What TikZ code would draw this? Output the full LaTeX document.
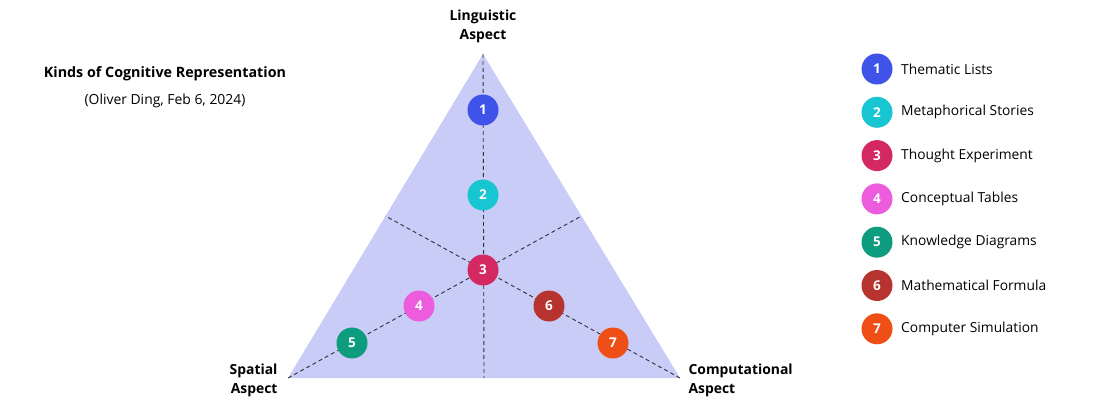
\documentclass[tikz,border=0pt]{standalone}
\usepackage{fontspec}
\setmainfont{Open Sans}
\usetikzlibrary{positioning,calc}
\definecolor{trifill}{HTML}{C8CCF7}
\definecolor{cone}{HTML}{4053E8}
\definecolor{ctwo}{HTML}{17C6D0}
\definecolor{cthree}{HTML}{D42862}
\definecolor{cfour}{HTML}{EC5CDC}
\definecolor{cfive}{HTML}{0E9C7E}
\definecolor{csix}{HTML}{B7332F}
\definecolor{cseven}{HTML}{EF4F17}
\tikzset{
  num/.style={circle, minimum size=31pt, inner sep=0pt, text=white,
    font=\fontsize{13.5}{14}\selectfont\bfseries},
  axis/.style={draw=black!80, dash pattern=on 4pt off 3pt, line width=0.9pt},
  aspect/.style={font=\fontsize{13.9}{19}\selectfont\bfseries},
  legtext/.style={anchor=west, font=\fontsize{13.8}{16}\selectfont}
}
\begin{document}
\begin{tikzpicture}[x=1pt, y=-1pt, node distance=43.3pt]
    \useasboundingbox (0,0) rectangle (1100,406);

    % triangle
    \coordinate (top) at (483,54);
    \coordinate (left) at (288,378);
    \coordinate (right) at (680,378);
    \fill[trifill] (top) -- (left) -- (right) -- cycle;
    \coordinate (mbot) at ($(left)!0.5!(right)$);
    \coordinate (mleft) at ($(top)!0.5!(left)$);
    \coordinate (mright) at ($(top)!0.5!(right)$);
    \draw[axis] (top) -- (mbot);
    \draw[axis] (left) -- (mright);
    \draw[axis] (right) -- (mleft);

    % aspects
    \node[aspect, align=center] (ling) at (483,26) {Linguistic\\Aspect};
    \node[aspect, align=right, anchor=east] (spat) at (281,380) {Spatial\\Aspect};
    \node[aspect, align=left, anchor=west] (comp) at (685,380) {Computational\\Aspect};

    % title
    \node[font=\fontsize{14.3}{16}\selectfont\bfseries] (title) at (165,74) {Kinds of Cognitive Representation};
    \node[font=\fontsize{13.9}{16}\selectfont] (sub) at (165,101) {(Oliver Ding, Feb 6, 2024)};

    % kinds in the triangle
    \node[num, fill=cone] (k1) at (483,110) {1};
    \node[num, fill=ctwo] (k2) at (483,195) {2};
    \node[num, fill=cthree] (k3) at (483,270) {3};
    \node[num, fill=cfour] (k4) at (419,306) {4};
    \node[num, fill=cfive] (k5) at (352,343) {5};
    \node[num, fill=csix] (k6) at (549,306) {6};
    \node[num, fill=cseven] (k7) at (613,343) {7};

    % legend
    \node[num, fill=cone] (l1) at (877,69) {1};
    \node[num, fill=ctwo] (l2) [below of=l1] {2};
    \node[num, fill=cthree] (l3) [below of=l2] {3};
    \node[num, fill=cfour] (l4) [below of=l3] {4};
    \node[num, fill=cfive] (l5) [below of=l4] {5};
    \node[num, fill=csix] (l6) [below of=l5] {6};
    \node[num, fill=cseven] (l7) [below of=l6] {7};

    \node[legtext] (t1) at ([xshift=5pt]l1.east) {Thematic Lists};
    \node[legtext] (t2) at ([xshift=5pt]l2.east) {Metaphorical Stories};
    \node[legtext] (t3) at ([xshift=5pt]l3.east) {Thought Experiment};
    \node[legtext] (t4) at ([xshift=5pt]l4.east) {Conceptual Tables};
    \node[legtext] (t5) at ([xshift=5pt]l5.east) {Knowledge Diagrams};
    \node[legtext] (t6) at ([xshift=5pt]l6.east) {Mathematical Formula};
    \node[legtext] (t7) at ([xshift=5pt]l7.east) {Computer Simulation};
  \end{tikzpicture}
\end{document}
